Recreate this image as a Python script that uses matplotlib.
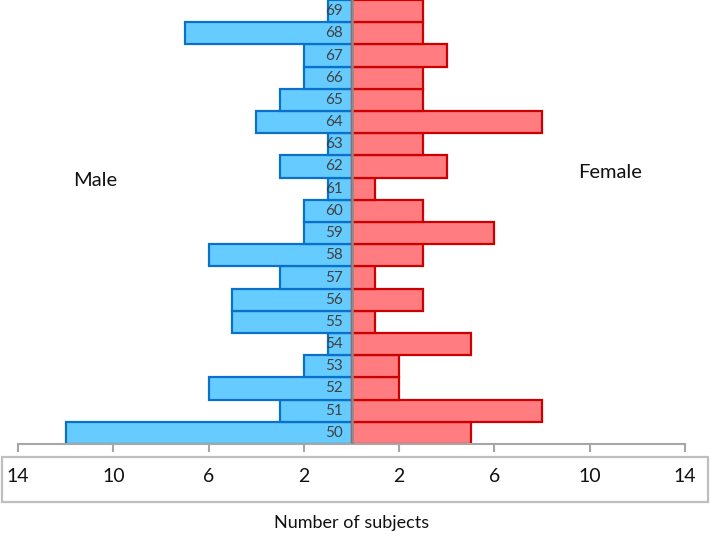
import matplotlib
matplotlib.use("Agg")
import matplotlib.pyplot as plt
from matplotlib.patches import Rectangle

plt.rcParams['font.family'] = ['Lato', 'DejaVu Sans']

ages = list(range(50, 70))
male = [12, 3, 6, 2, 1, 5, 5, 3, 6, 2, 2, 1, 3, 1, 4, 3, 2, 2, 7, 1]
female = [5, 8, 2, 2, 5, 1, 3, 1, 3, 6, 3, 1, 4, 3, 8, 3, 3, 4, 3, 3]
tick_values = [-14, -10, -6, -2, 2, 6, 10, 14]
tick_labels = ["14", "10", "6", "2", "2", "6", "10", "14"]

W, H = 710, 542
fig = plt.figure(figsize=(W / 100, H / 100), dpi=100)
ax = fig.add_axes([18 / W, (H - 444) / H, 667 / W, 444 / H])

y = list(range(len(ages)))
ax.barh(y, [-m for m in male], height=1.0, color='#66CCFF', edgecolor='#0A70C8',
        linewidth=1.6, zorder=2)
ax.barh(y, female, height=1.0, color='#FF7C80', edgecolor='#CC0000',
        linewidth=1.6, zorder=2)
ax.axvline(0, color='#8C8C8C', linewidth=1.8, zorder=3)

for yi, a in zip(y, ages):
    ax.text(-0.36, yi, str(a), ha='right', va='center', color='#404040',
            fontsize=11, zorder=4)

ax.set_xlim(-14, 14)
ax.set_ylim(-0.5, 19.5)
ax.set_yticks([])
ax.set_xticks(tick_values)
ax.set_xticklabels(tick_labels, fontsize=14, color='#111111')
ax.tick_params(axis='x', direction='out', length=6, width=1.5, color='#A6A6A6', pad=11)
for s in ['top', 'right', 'left']:
    ax.spines[s].set_visible(False)
ax.spines['bottom'].set_color('#A6A6A6')
ax.spines['bottom'].set_linewidth(1.5)
ax.patch.set_alpha(0)

# box around tick labels
fig.patches.append(Rectangle((2 / W, (H - 502) / H), 706 / W, 45 / H,
                             transform=fig.transFigure, fill=False,
                             edgecolor='#BFBFBF', linewidth=1.6, zorder=0))

fig.text(95 / W, 1 - 181 / H, "Male", ha='center', va='center', fontsize=14.5, color='#111111')
fig.text(610 / W, 1 - 173 / H, "Female", ha='center', va='center', fontsize=14.5, color='#111111')
fig.text(352 / W, 1 - 523 / H, "Number of subjects", ha='center', va='center',
         fontsize=13, color='#111111')

fig.savefig("out.png", dpi=100)
